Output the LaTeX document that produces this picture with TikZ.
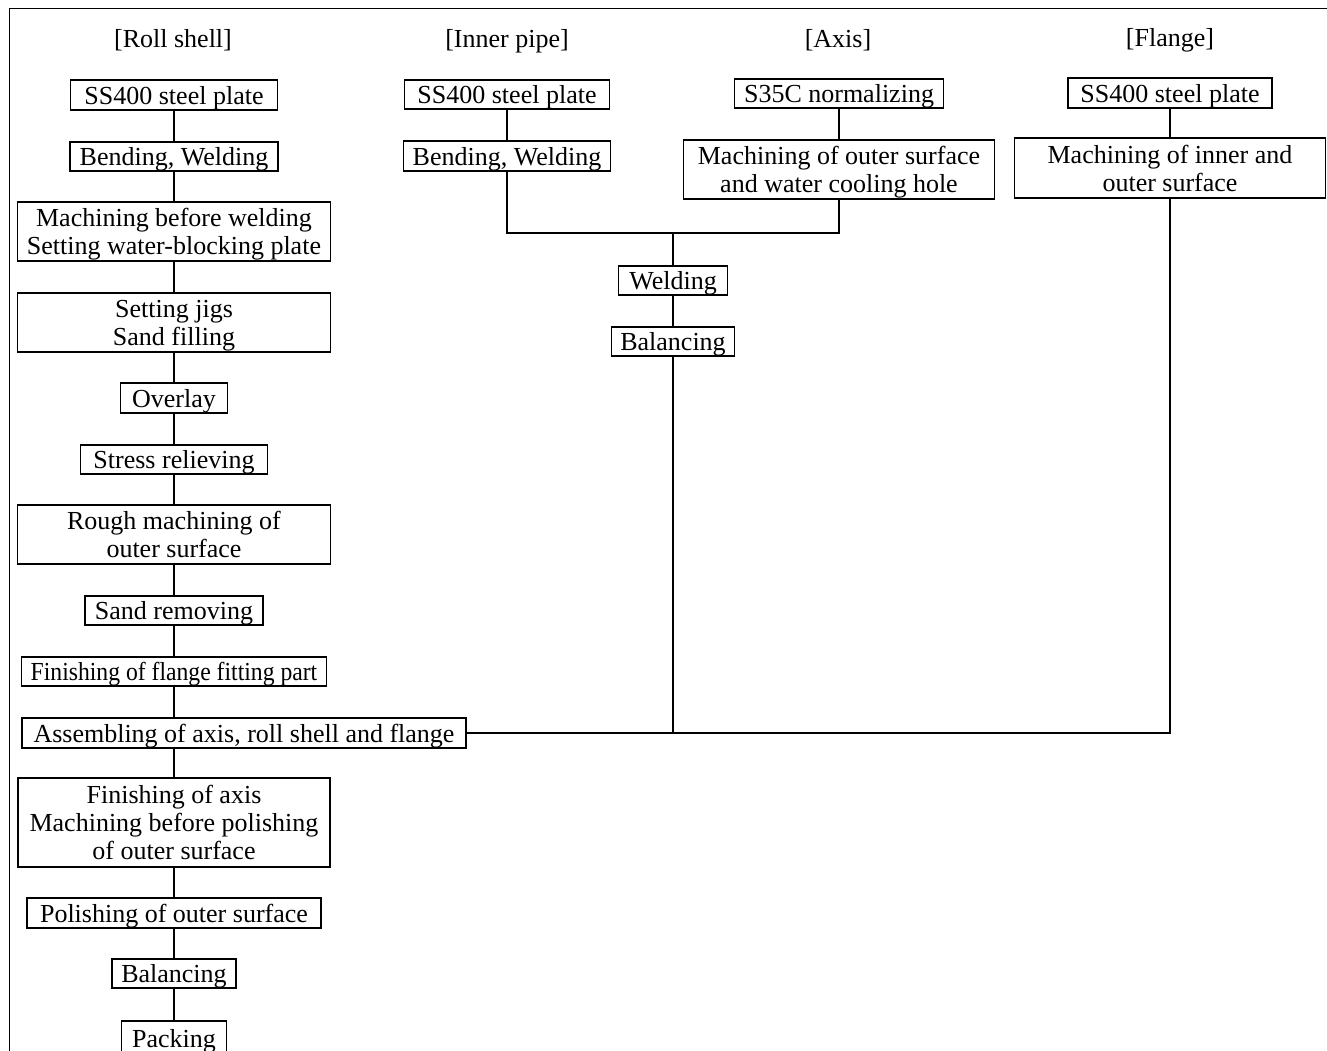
\documentclass[tikz,border=0pt]{standalone}
\usepackage{fontspec}
\usepackage{graphicx}
\setmainfont{Liberation Serif}
\newcommand\bxt[1]{\raisebox{-3.5pt}[\height][\depth]{\begin{tabular}{@{}c@{}}#1\end{tabular}}}
\begin{document}
\begin{tikzpicture}[x=1pt,y=-1pt,
  pbox/.style={draw, line width=1.3pt, inner sep=0pt, align=center,
    font=\fontsize{26}{28}\selectfont},
  lbl/.style={inner sep=0pt, font=\fontsize{26}{28}\selectfont},
  conn/.style={line width=1.1pt},
  frame/.style={line width=1pt}]
\useasboundingbox (0,0) rectangle (1327,1051);
% frame
\coordinate (fc) at (9,9);
\coordinate (ftr) at (1327,9);
\coordinate (fbl) at (9,1051);
\draw[frame] (fbl) -- (fc) -- (ftr);
% column titles
\node[lbl] (t1) at (173,38) {\bxt{[Roll shell]}};
\node[lbl] (t2) at (507,38) {\bxt{[Inner pipe]}};
\node[lbl] (t3) at (838,38) {\bxt{[Axis]}};
\node[lbl] (t4) at (1170,37) {\bxt{[Flange]}};
% roll shell
\node[pbox, minimum width=207, minimum height=30] (rs1) at (174,95) {\bxt{SS400 steel plate}};
\node[pbox, minimum width=208, minimum height=29] (rs2) at (174,156.5) {\bxt{Bending, Welding}};
\node[pbox, minimum width=313, minimum height=59] (rs3) at (174,231.5) {\bxt{Machining before welding\\Setting water-blocking plate}};
\node[pbox, minimum width=313, minimum height=59] (rs4) at (174,322.5) {\bxt{Setting jigs\\Sand filling}};
\node[pbox, minimum width=107, minimum height=30] (rs5) at (174,398) {\bxt{Overlay}};
\node[pbox, minimum width=187, minimum height=29] (rs6) at (174,459.5) {\bxt{Stress relieving}};
\node[pbox, minimum width=313, minimum height=59] (rs7) at (174,534.5) {\bxt{Rough machining of\\outer surface}};
\node[pbox, minimum width=178, minimum height=29] (rs8) at (174,610.5) {\bxt{Sand removing}};
\node[pbox, minimum width=305, minimum height=29] (rs9) at (174,671.5) {\bxt{\scalebox{0.91}[1]{Finishing of flange fitting part}}};
\node[pbox, minimum width=444, minimum height=30] (rs10) at (244,733) {\bxt{Assembling of axis, roll shell and flange}};
\node[pbox, minimum width=312, minimum height=89] (rs11) at (174,822.5) {\bxt{Finishing of axis\\Machining before polishing\\of outer surface}};
\node[pbox, minimum width=294, minimum height=30] (rs12) at (174,913) {\bxt{Polishing of outer surface}};
\node[pbox, minimum width=124, minimum height=29] (rs13) at (174,973.5) {\bxt{Balancing}};
\node[pbox, minimum width=105, minimum height=34] (rs14) at (174,1038) {\bxt{Packing}};
% inner pipe
\node[pbox, minimum width=205, minimum height=29] (ip1) at (507,94.5) {\bxt{SS400 steel plate}};
\node[pbox, minimum width=207, minimum height=30] (ip2) at (507,156) {\bxt{Bending, Welding}};
% axis
\node[pbox, minimum width=209, minimum height=29] (ax1) at (839,93.5) {\bxt{S35C normalizing}};
\node[pbox, minimum width=311, minimum height=59] (ax2) at (839,169.5) {\bxt{Machining of outer surface\\and water cooling hole}};
% welding / balancing
\node[pbox, minimum width=109, minimum height=29] (wd) at (673,280.5) {\bxt{Welding}};
\node[pbox, minimum width=123, minimum height=29] (bl) at (673,341.5) {\bxt{Balancing}};
% flange
\node[pbox, minimum width=204, minimum height=30] (fl1) at (1170,93) {\bxt{SS400 steel plate}};
\node[pbox, minimum width=311, minimum height=60] (fl2) at (1170,168) {\bxt{Machining of inner and\\outer surface}};
% connectors roll shell
\draw[conn] (rs1) -- (rs2);
\draw[conn] (rs2) -- (rs3);
\draw[conn] (rs3) -- (rs4);
\draw[conn] (rs4) -- (rs5);
\draw[conn] (rs5) -- (rs6);
\draw[conn] (rs6) -- (rs7);
\draw[conn] (rs7) -- (rs8);
\draw[conn] (rs8) -- (rs9);
\draw[conn] (rs9.south) -- (rs9.south |- rs10.north);
\draw[conn] (rs10.south -| rs11.north) -- (rs11.north);
\draw[conn] (rs11) -- (rs12);
\draw[conn] (rs12) -- (rs13);
\draw[conn] (rs13) -- (rs14);
% inner pipe & axis
\coordinate (j1) at (673,233);
\draw[conn] (ip1) -- (ip2);
\draw[conn] (ax1) -- (ax2);
\draw[conn] (ip2.south) |- (j1);
\draw[conn] (ax2.south) |- (j1);
\draw[conn] (j1) -- (wd.north);
\draw[conn] (wd) -- (bl);
\draw[conn] (bl.south) -- (bl.south |- rs10.east);
% flange
\draw[conn] (fl1) -- (fl2);
\draw[conn] (fl2.south) |- (rs10.east);
\end{tikzpicture}
\end{document}
